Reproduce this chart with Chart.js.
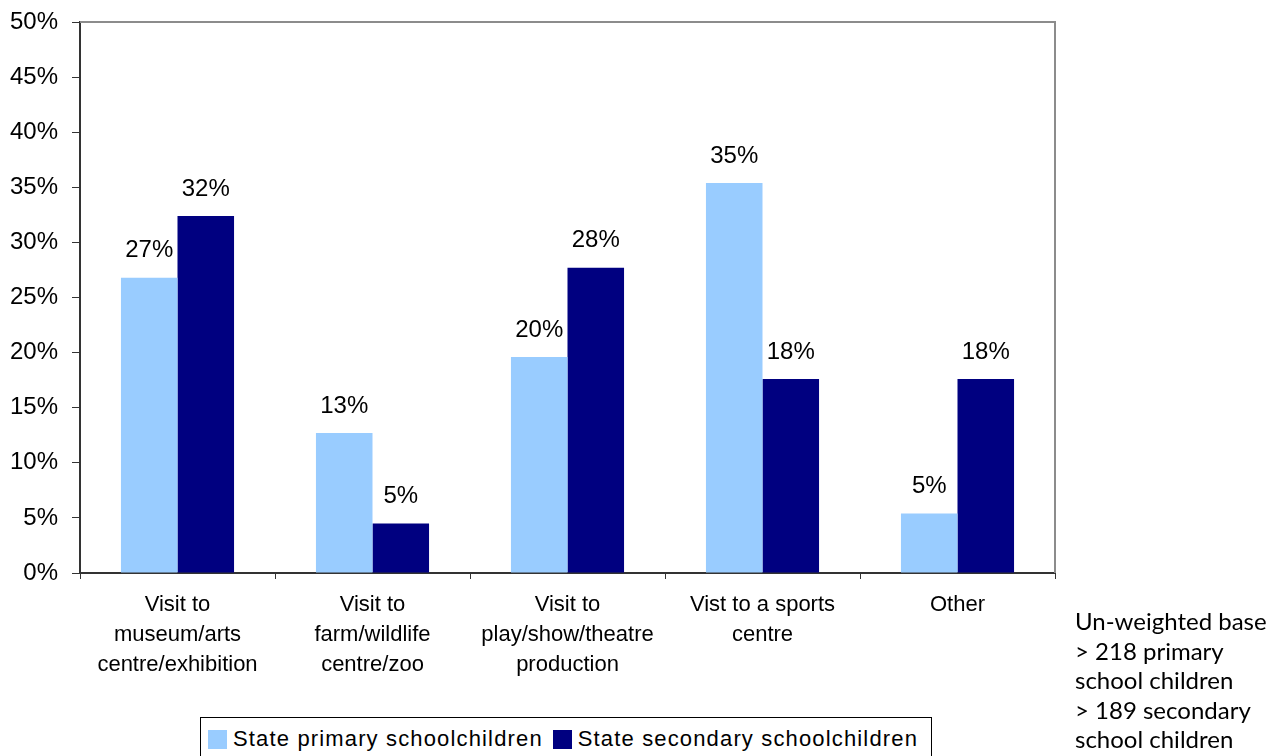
<!DOCTYPE html>
<html>
<head>
<meta charset="utf-8">
<script src="https://cdn.jsdelivr.net/npm/chart.js@4/dist/chart.umd.min.js"></script>
<style>
  html, body { margin: 0; padding: 0; background: #fff; overflow: hidden; }
  #wrap { position: relative; width: 1279px; height: 756px; }
  #chartBox { position: absolute; left: 0; top: 0; width: 1134px; height: 700px; }
  #legend { position: absolute; left: 200px; top: 717px; width: 732px; height: 44px;
    border: 1px solid #000; box-sizing: border-box; font: 22px "Liberation Sans", Arial, sans-serif;
    letter-spacing: 1.15px; color: #000; display: flex; align-items: center; padding-left: 7px; white-space: nowrap; }
  #legend .sw { display: inline-block; width: 19px; height: 19px; margin-right: 6px; }
  #legend .item { display: flex; align-items: center; margin-right: 10px; }
  #note { position: absolute; left: 1075px; top: 606px; font: 24px Lato, "Open Sans", sans-serif;
    line-height: 29.5px; color: #000; white-space: nowrap; }
</style>
</head>
<body>
<div id="wrap">
  <div id="chartBox"><canvas id="c"></canvas></div>
  <div id="legend"></div>
  <div id="note">Un-weighted base<br>&gt; 218 primary<br>school children<br>&gt; 189 secondary<br>school children</div>
</div>
<script>
const categories = [
  ['Visit to', 'museum/arts', 'centre/exhibition'],
  ['Visit to', 'farm/wildlife', 'centre/zoo'],
  ['Visit to', 'play/show/theatre', 'production'],
  ['Vist to a sports', 'centre'],
  ['Other']
];
const seriesNames = ['State primary schoolchildren', 'State secondary schoolchildren'];
const seriesColors = ['#99CCFF', '#000080'];
const primaryValues = [26.8, 12.7, 19.6, 35.4, 5.4];
const secondaryValues = [32.4, 4.5, 27.7, 17.6, 17.6];
const yTicks = [0, 5, 10, 15, 20, 25, 30, 35, 40, 45, 50];

const FONT = '"Liberation Sans", Arial, sans-serif';

/* étiquettes de valeur au-dessus des barres */
const valueLabels = {
  id: 'valueLabels',
  afterDatasetsDraw(chart) {
    const { ctx } = chart;
    ctx.save();
    ctx.font = '24px ' + FONT;
    ctx.fillStyle = '#000';
    ctx.textAlign = 'center';
    ctx.textBaseline = 'middle';
    chart.data.datasets.forEach((ds, i) => {
      chart.getDatasetMeta(i).data.forEach((bar, j) => {
        ctx.fillText(Math.round(ds.data[j]) + '%', bar.x, bar.y - 27);
      });
    });
    ctx.restore();
  }
};

/* cadre gris haut/droite de la zone de tracé */
const plotFrame = {
  id: 'plotFrame',
  afterDraw(chart) {
    const { ctx, chartArea: a } = chart;
    ctx.save();
    ctx.strokeStyle = '#8c8c8c';
    ctx.lineWidth = 2;
    ctx.beginPath();
    ctx.moveTo(a.left, a.top); ctx.lineTo(a.right, a.top); ctx.lineTo(a.right, a.bottom);
    ctx.stroke();
    ctx.restore();
  }
};

new Chart(document.getElementById('c'), {
  type: 'bar',
  data: {
    labels: categories,
    datasets: [
      { label: seriesNames[0], data: primaryValues, backgroundColor: seriesColors[0] },
      { label: seriesNames[1], data: secondaryValues, backgroundColor: seriesColors[1] }
    ]
  },
  options: {
    responsive: true,
    maintainAspectRatio: false,
    animation: false,
    devicePixelRatio: 1,
    layout: { padding: { top: 22, right: 79, left: 0, bottom: 0 } },
    datasets: { bar: { categoryPercentage: 0.58, barPercentage: 1.0 } },
    plugins: { legend: { display: false }, tooltip: { enabled: false } },
    scales: {
      x: {
        grid: { display: true, drawOnChartArea: false, drawTicks: true, tickLength: 6, color: '#333', offset: true },
        border: { display: true, color: '#333', width: 2 },
        ticks: { color: '#000', font: { family: FONT, size: 22, lineHeight: 1.36 }, padding: 11, maxRotation: 0, autoSkip: false },
        afterFit(scale) { scale.height = 700 - 573; scale.paddingLeft = 0; scale.paddingRight = 0; }
      },
      y: {
        min: 0, max: 50,
        afterBuildTicks(scale) { scale.ticks = yTicks.map(v => ({ value: v })); },
        grid: { display: true, drawOnChartArea: false, drawTicks: true, tickLength: 8, color: '#333' },
        border: { display: true, color: '#333', width: 2 },
        ticks: { color: '#000', font: { family: FONT, size: 24 }, padding: 14, callback: v => v + '%' },
        afterFit(scale) { scale.width = 80; scale.paddingTop = 0; scale.paddingBottom = 0; }
      }
    }
  },
  plugins: [valueLabels, plotFrame]
});

/* légende HTML encadrée */
document.getElementById('legend').innerHTML = seriesNames.map((n, i) =>
  `<span class="item"><span class="sw" style="background:${seriesColors[i]}"></span>${n}</span>`).join('');
</script>
</body>
</html>
